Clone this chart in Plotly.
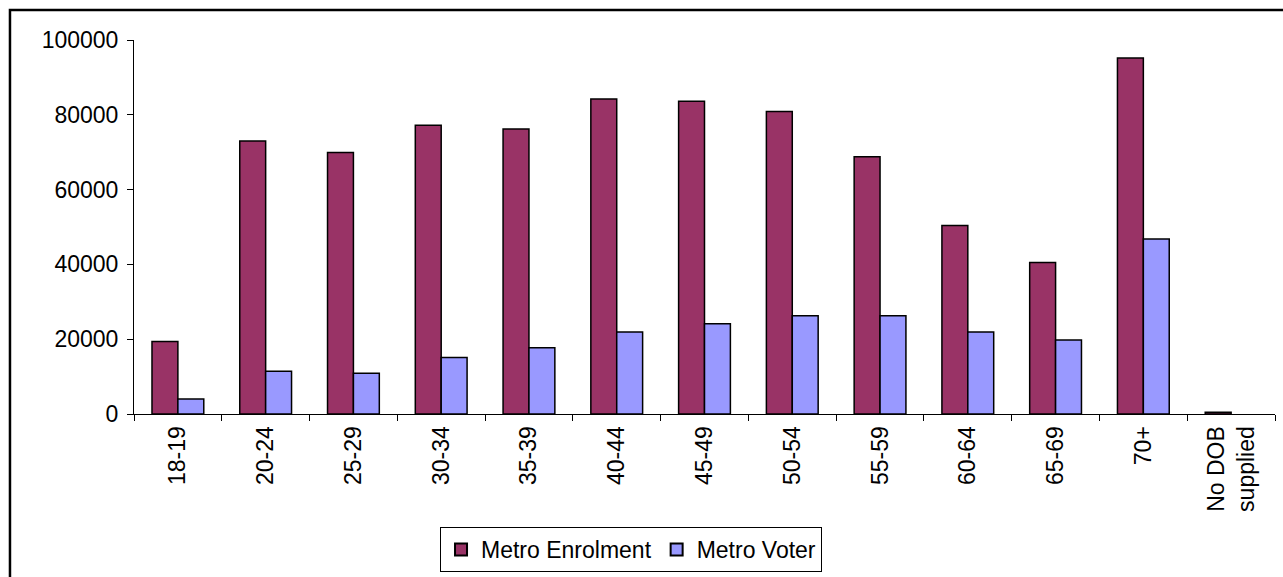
import plotly.graph_objects as go

age_groups = ["18-19", "20-24", "25-29", "30-34", "35-39", "40-44", "45-49",
              "50-54", "55-59", "60-64", "65-69", "70+", "No DOB<br>supplied"]
metro_enrolment = [19400, 73000, 69900, 77200, 76200, 84200, 83600,
                   80900, 68800, 50400, 40500, 95200, 450]
metro_voter = [4000, 11400, 10900, 15100, 17700, 21900, 24100,
               26300, 26300, 21900, 19800, 46800, None]
y_ticks = [0, 20000, 40000, 60000, 80000, 100000]

FONT = "Liberation Sans, Arial, sans-serif"

fig = go.Figure()
fig.add_trace(go.Bar(
    x=age_groups, y=metro_enrolment, name="Metro Enrolment",
    marker=dict(color="#993366", line=dict(color="black", width=1.5)),
))
fig.add_trace(go.Bar(
    x=age_groups, y=metro_voter, name="Metro Voter",
    marker=dict(color="#9999FF", line=dict(color="black", width=1.5)),
))

fig.update_layout(
    width=1283, height=577,
    margin=dict(l=134, r=8, t=40, b=163, pad=0, autoexpand=False),
    paper_bgcolor="white", plot_bgcolor="white",
    font=dict(family=FONT, size=23, color="black"),
    barmode="group", bargap=0.41, bargroupgap=0,
    showlegend=True,
    legend=dict(
        orientation="h", x=0.4356, xanchor="center", y=-0.302, yanchor="top",
        bordercolor="black", borderwidth=1, bgcolor="white",
        font=dict(size=23), itemsizing="constant", tracegroupgap=0,
    ),
    xaxis=dict(
        type="category", showline=True, linecolor="black", linewidth=1,
        ticks="outside", ticklen=6, tickcolor="black", tickson="boundaries",
        tickangle=-90, showgrid=False, zeroline=False, ticklabelstandoff=2,
    ),
    yaxis=dict(
        range=[0, 100000], tickvals=y_ticks, ticktext=[str(v) for v in y_ticks],
        showline=True, linecolor="black", linewidth=1,
        ticks="outside", ticklen=6, tickcolor="black",
        showgrid=False, zeroline=False, ticklabelstandoff=4,
    ),
    shapes=[dict(
        type="rect", xref="paper", yref="paper",
        x0=-0.1087, x1=1.2, y0=-0.6, y1=1.0802,
        line=dict(color="black", width=2.5), fillcolor="rgba(0,0,0,0)",
        layer="below",
    )],
)

fig.write_html("out.html")
